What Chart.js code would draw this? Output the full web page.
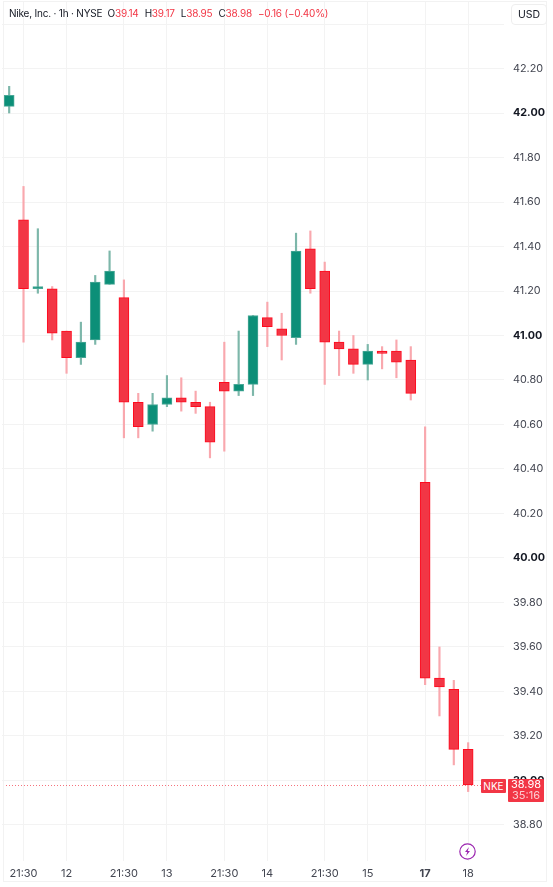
<!DOCTYPE html>
<html>
<head>
<meta charset="utf-8">
<title>NKE</title>
<script src="https://cdn.jsdelivr.net/npm/chart.js@4"></script>
<style>
    html, body { margin: 0; padding: 0; background: #fff; }
    body { width: 553px; height: 887px; position: relative; overflow: hidden; font-family: Inter, sans-serif; }
    #myChart { position: absolute; left: 0; top: 0; }
    .frame { position: absolute; left: 3px; top: 1px; width: 544px; height: 881px; border: 1px solid #f2f2f2; box-sizing: border-box; }
    .header { position: absolute; left: 9px; top: 6px; font-size: 10px; line-height: 14px; letter-spacing: -0.2px; color: #131722; white-space: nowrap; }
    .header b { font-weight: 400; color: #f23645; margin-right: 6px; }
    .usd { position: absolute; left: 511px; top: 4px; width: 36px; height: 21px; border: 1px solid #eee; border-radius: 4px; box-sizing: border-box; background: #fff; font-size: 10.5px; line-height: 20px; text-align: center; color: #131722; }
    .tag { position: absolute; background: #f23645; color: #fff; font-size: 11px; text-align: center; }
    .nke { left: 481px; width: 25px; height: 14px; line-height: 14px; font-size: 10px; border-radius: 1px; }
    .price { left: 508px; width: 36px; height: 23px; line-height: 11.5px; border-radius: 1px; }
    .price span { opacity: .75; }
    .bolt { position: absolute; left: 459px; top: 843px; }
</style>
</head>
<body>
<canvas id="myChart" width="553" height="887"></canvas>
<div class="frame"></div>
<div class="header">Nike, Inc. · 1h · NYSE&nbsp; O<b>39.14</b>H<b>39.17</b>L<b>38.95</b>C<b>38.98</b><b>−0.16 (−0.40%)</b></div>
<div class="usd">USD</div>
<div class="tag nke" id="nkeTag">NKE</div>
<div class="tag price" id="priceTag">38.98<br><span>35:16</span></div>
<svg class="bolt" width="17" height="17" viewBox="0 0 17 17">
    <circle cx="8.5" cy="8.5" r="7.7" fill="#fff" stroke="#9c27b0" stroke-width="1.2"/>
    <path d="M10 4 L6 9 H8.3 L7 13 L11 8 H8.7 Z" fill="#9c27b0"/>
</svg>
<script>
const tickLabels = ['', '21:30', '', '', '12', '', '', '', '21:30', '', '', '13', '', '', '', '21:30', '', '', '14', '', '', '',
    '21:30', '', '', '15', '', '', '', '17', '', '', '18', '', ''];

const opens = [42.03, 41.52, 41.21, 41.21, 41.02, 40.90, 40.98, 41.23, 41.17, 40.70, 40.60, 40.69, 40.72, 40.70, 40.68, 40.79, 40.75,
    40.78, 41.08, 41.03, 40.99, 41.39, 41.29, 40.97, 40.94, 40.87, 40.93, 40.93, 40.89, 40.34, 39.46, 39.41, 39.14];
const closes = [42.08, 41.21, 41.22, 41.01, 40.90, 40.97, 41.24, 41.29, 40.70, 40.59, 40.69, 40.72, 40.70, 40.68, 40.52, 40.75, 40.78,
    41.09, 41.04, 41.00, 41.38, 41.21, 40.97, 40.94, 40.87, 40.93, 40.92, 40.88, 40.74, 39.46, 39.42, 39.14, 38.98];
const highs = [42.12, 41.67, 41.48, 41.22, 41.02, 41.06, 41.27, 41.38, 41.25, 40.74, 40.74, 40.82, 40.81, 40.75, 40.70, 40.97, 41.02,
    41.09, 41.15, 41.10, 41.46, 41.47, 41.33, 41.02, 41.00, 40.96, 40.95, 40.98, 40.95, 40.59, 39.60, 39.45, 39.17];
const lows = [42.00, 40.97, 41.19, 40.98, 40.83, 40.87, 40.96, 41.23, 40.54, 40.54, 40.57, 40.68, 40.66, 40.65, 40.45, 40.48, 40.73,
    40.73, 40.95, 40.89, 40.96, 41.19, 40.78, 40.82, 40.83, 40.80, 40.85, 40.81, 40.71, 39.43, 39.29, 39.07, 38.95];
const lastClose = 38.98;

const gridColor = '#f3f3f3';
const isUp = i => closes[i] >= opens[i];

// dotted last price line
const lastLine = {
    id: 'lastLine',
    beforeDatasetsDraw(chart) {
        const ctx = chart.ctx;
        const y = Math.round(chart.scales.y.getPixelForValue(lastClose)) + 0.5;
        ctx.save();
        ctx.strokeStyle = 'rgba(242, 54, 69, 0.7)';
        ctx.setLineDash([1, 2]);
        ctx.beginPath();
        ctx.moveTo(chart.chartArea.left + 1, y);
        ctx.lineTo(chart.chartArea.right, y);
        ctx.stroke();
        ctx.restore();
    }
};

const data = {
    labels: tickLabels,
    datasets: [{
        label: 'body',
        data: opens.map((o, i) => [o, closes[i]]),
        backgroundColor: opens.map((o, i) => isUp(i) ? '#0c8f78' : '#f23645'),
        borderColor: opens.map((o, i) => isUp(i) ? '#4aa897' : '#ff0a1e'),
        borderWidth: 1,
        borderSkipped: false,
        barThickness: 10,
        grouped: false,
        order: 1
    }, {
        label: 'wick',
        data: lows.map((l, i) => [l, highs[i]]),
        backgroundColor: lows.map((l, i) => isUp(i) ? '#7db7aa' : '#f9a8ae'),
        borderWidth: 0,
        barThickness: 1.5,
        grouped: false,
        order: 2
    }]
};

const config = {
    type: 'bar',
    data: data,
    plugins: [lastLine],
    options: {
        responsive: false,
        animation: false,
        layout: { padding: { left: 2, top: 2, right: 0, bottom: 0 } },
        plugins: { legend: { display: false }, tooltip: { enabled: false } },
        scales: {
            x: {
                offset: true,
                border: { display: false },
                grid: {
                    offset: false,
                    drawTicks: false,
                    color: ctx => tickLabels[ctx.index] ? gridColor : 'rgba(0,0,0,0)'
                },
                ticks: {
                    autoSkip: false,
                    maxRotation: 0,
                    padding: 6,
                    color: '#434651',
                    font: ctx => ({
                        family: 'Inter', size: 11,
                        weight: ctx.tick && ctx.tick.label === '17' ? 'bold' : 'normal'
                    })
                },
                afterFit: scale => {
                    scale.height = 26;
                    scale.paddingLeft = 0;
                    scale.paddingRight = 0;
                }
            },
            y: {
                position: 'right',
                min: 38.638,
                max: 42.499,
                border: { display: false },
                grid: { drawTicks: false, color: gridColor },
                ticks: {
                    stepSize: 0.2,
                    includeBounds: false,
                    padding: 9,
                    color: ctx => Number.isInteger(Math.round(ctx.tick.value * 100) / 100) ? '#131722' : '#434651',
                    font: ctx => ({
                        family: 'Inter', size: 10.8,
                        weight: ctx.tick && Number.isInteger(Math.round(ctx.tick.value * 100) / 100) ? 'bold' : 'normal'
                    }),
                    // the top line runs under the header, so it has no label
                    callback: v => v > 42.3 ? '' : v.toFixed(2)
                },
                afterFit: scale => {
                    scale.width = 49;
                    scale.paddingTop = 0;
                    scale.paddingBottom = 0;
                }
            }
        }
    }
};

const myChart = new Chart(document.getElementById('myChart'), config);

// tags sit on the last close
const lastY = myChart.scales.y.getPixelForValue(lastClose);
document.getElementById('nkeTag').style.top = (lastY - 6) + 'px';
document.getElementById('priceTag').style.top = (lastY - 6) + 'px';
</script>
</body>
</html>
